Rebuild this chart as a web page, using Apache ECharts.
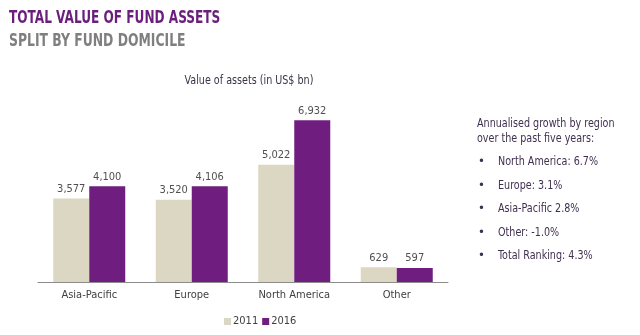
<!DOCTYPE html>
<html><head><meta charset="utf-8">
<script src="https://cdn.jsdelivr.net/npm/echarts@6/dist/echarts.min.js"></script>
<style>html,body{margin:0;padding:0;background:#fff}#c{width:640px;height:335px}</style>
</head><body><div id="c"></div>
<script>
const categories = ['Asia-Pacific', 'Europe', 'North America', 'Other'];
const values2011 = [3577, 3520, 5022, 629];
const values2016 = [4100, 4106, 6932, 597];
const growthLines = ['North America: 6.7%', 'Europe: 3.1%', 'Asia-Pacific 2.8%', 'Other: -1.0%', 'Total Ranking: 4.3%'];

const FONT = '"DejaVu Sans Condensed", "Liberation Sans Narrow", sans-serif';
const chart = echarts.init(document.getElementById('c'));

function txt(x, y, text, font, fill, sx, align) {
  return {type:'text', x:x, y:y, scaleX:sx, silent:true,
    style:{text:text, font:font, fill:fill, align:align||'left', verticalAlign:'middle'}};
}
const PUR = '#40304f';
const graphicEls = [
  txt(9, 18, 'TOTAL VALUE OF FUND ASSETS', 'bold 18px '+FONT, '#6b1f7d', 0.748),
  txt(9, 41, 'SPLIT BY FUND DOMICILE', 'bold 18px '+FONT, '#7f7f7f', 0.765),
  txt(249, 81, 'Value of assets (in US$ bn)', '13px '+FONT, '#3d3347', 0.82, 'center'),
  txt(477, 124, 'Annualised growth by region', '13px '+FONT, PUR, 0.82),
  txt(477, 139, 'over the past five years:', '13px '+FONT, PUR, 0.82)
];
growthLines.forEach((t, i) => {
  graphicEls.push(txt(478, 162 + i*23.5, '•', '13px '+FONT, PUR, 1));
  graphicEls.push(txt(498, 162 + i*23.5, t, '13px '+FONT, PUR, 0.82));
});
chart.setOption({
  animation:false,
  legend:{data:['2011','2016'], left:219, top:311, itemWidth:7, itemHeight:7, itemGap:4,
    textStyle:{fontFamily:FONT, fontSize:11, color:'#404040', padding:[0,0,0,-3]}, icon:'rect'},
  grid:{left:38, right:192, top:100, bottom:53},
  xAxis:{type:'category', data:categories,
    axisLine:{lineStyle:{color:'#8c8c8c', width:1}}, axisTick:{show:false},
    axisLabel:{fontFamily:FONT, fontSize:11, color:'#404040', margin:8}},
  yAxis:{type:'value', min:0, max:7800, show:false, splitLine:{show:false}},
  series:[
    {name:'2011', type:'bar', data:values2011, barWidth:36, barGap:'0%',
      itemStyle:{color:'#dcd7c3'},
      label:{show:true, position:'top', distance:4, fontFamily:FONT, fontSize:11, color:'#505050',
        formatter:p=>p.value.toLocaleString('en-US')}},
    {name:'2016', type:'bar', data:values2016, barWidth:36,
      itemStyle:{color:'#6f1e80'},
      label:{show:true, position:'top', distance:4, fontFamily:FONT, fontSize:11, color:'#505050',
        formatter:p=>p.value.toLocaleString('en-US')}}
  ],
  graphic:graphicEls
});
</script></body></html>
